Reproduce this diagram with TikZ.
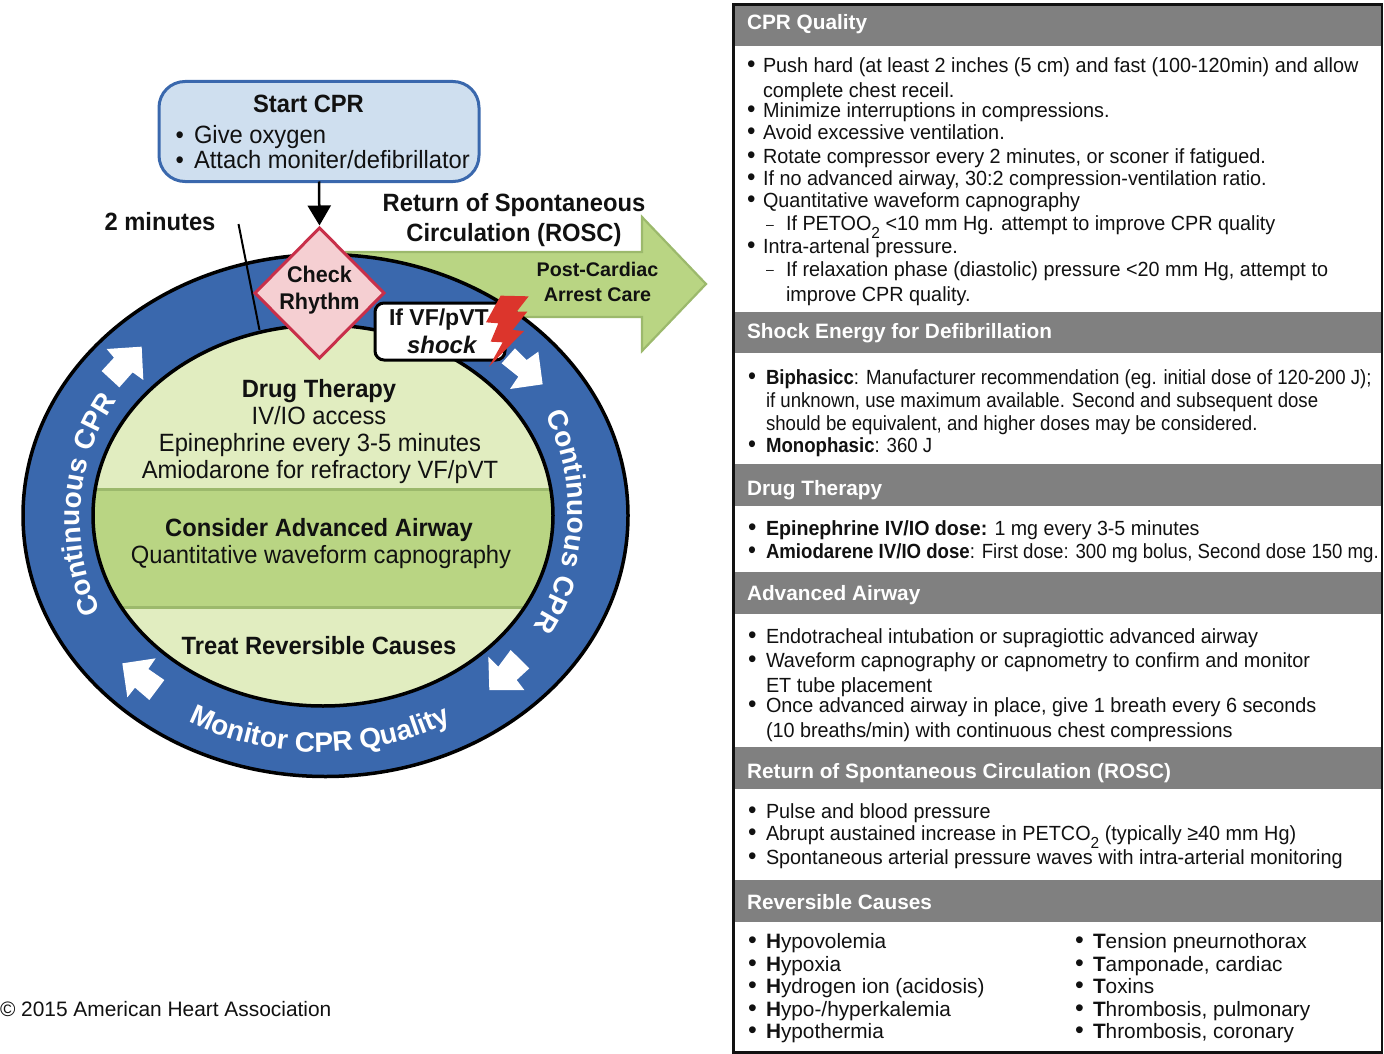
\documentclass[tikz,border=0pt]{standalone}
\usepackage{fontspec}
\setmainfont{Liberation Sans}
\newfontfamily\tfa{Liberation Sans}[FakeStretch=0.966]
\newfontfamily\tfb{Liberation Sans}[FakeStretch=0.908]
\newfontfamily\tfc{Liberation Sans}[FakeStretch=0.957]
\newfontfamily\tfe{Liberation Sans}[FakeStretch=0.95]
\usetikzlibrary{shapes.geometric,arrows.meta,decorations.text}
\definecolor{ink}{HTML}{111111}
\definecolor{ringblue}{HTML}{3A68AD}
\definecolor{boxblue}{HTML}{CFDFEF}
\definecolor{leaf}{HTML}{B9D583}
\definecolor{leafdark}{HTML}{9CB96C}
\definecolor{pale}{HTML}{E1EDC0}
\definecolor{crim}{HTML}{C8304A}
\definecolor{pink}{HTML}{F5CFD2}
\definecolor{bolt}{HTML}{DC352C}
\definecolor{hdr}{HTML}{808080}
\newcommand\fsz[1]{\fontsize{#1}{#1}\selectfont}
\newcommand\bigdot{\fsz{25}•}
\newcount\nc
\newcommand\tx[4][]{\global\advance\nc by 1 \node[lineb,#1] (n\the\nc) at (#2,#3) {#4};}
\newcommand\bx[4]{\global\advance\nc by 1 \node[lineb,tbl] (n\the\nc) at (#1,#3) {\bigdot};\global\advance\nc by 1 \node[lineb,tbl] (n\the\nc) at (#2,#3) {#4};}
\newcommand\hd[4]{\global\advance\nc by 1 \fill[hdr] (733,#1) rectangle (1382,#2);\node[lineb,hdtext] (n\the\nc) at (747,#3) {#4};}
\newcommand\sub[1]{\raisebox{-8pt}{\fsz{16}#1}}
\tikzset{
  lineb/.style={anchor=base west,inner sep=0pt,outer sep=0pt,text=ink},
  mid/.style={anchor=base},
  tbl/.style={font=\tfa\fsz{20.5}},
  hdtext/.style={font=\fsz{20.8}\bfseries,text=white},
  dia/.style={font=\tfe\fsz{25}},
  diab/.style={font=\tfe\fsz{25}\bfseries},
  whitearrow/.style={fill=white,draw=none},
  ringtext/.style={decorate,decoration={text along path,text align=center,text color=white,text={|\fsz{28}\bfseries|#1}}},
}
\begin{document}
\begin{tikzpicture}[x=1pt,y=-1pt]
\useasboundingbox (0,0) rectangle (1384,1054);
% post-cardiac arrow
\draw[fill=leaf,draw=leafdark,line width=2.2pt,line join=miter]
  (345,252) -- (642,252) -- (642,217) -- (706,284) -- (642,351) -- (642,317) -- (470,317) -- (345,252);
% ring
\fill[ringblue] (325.5,515.5) ellipse [x radius=302.5,y radius=261];
\draw[black,line width=3.5pt] (325.5,515.5) ellipse [x radius=302.5,y radius=261];
\fill[pale] (323,515.5) ellipse [x radius=230,y radius=190.5];
\begin{scope}
\clip (323,515.5) ellipse [x radius=230,y radius=190.5];
\fill[leaf] (80,489) rectangle (570,607);
\draw[leafdark,line width=3pt] (80,489) -- (570,489) (80,607) -- (570,607);
\end{scope}
\draw[black,line width=3.5pt] (323,515.5) ellipse [x radius=230,y radius=190.5];
% pointer
\coordinate (pa) at (238.5,224);
\coordinate (pb) at (259.5,330);
\draw[black,line width=2pt] (pa) -- (pb);
% white arrows
\begin{scope}[shift={(470,285)},x=.3333pt,y=-.3333pt]
\fill[whitearrow] (135,190)--(170,225)--(205,200)--(218,298)--(120,312)--(145,275)--(95,235)--cycle;
\end{scope}
\begin{scope}[shift={(90,335)},x=.3333pt,y=-.3333pt]
\fill[whitearrow] (35,108)--(72,68)--(50,42)--(155,35)--(160,135)--(128,112)--(88,157)--cycle;
\end{scope}
\begin{scope}[shift={(470,635)},x=.3333pt,y=-.3333pt]
\fill[whitearrow] (122,45)--(85,95)--(55,65)--(58,165)--(163,165)--(140,135)--(178,100)--cycle;
\end{scope}
\begin{scope}[shift={(110,645)},x=.3333pt,y=-.3333pt]
\fill[whitearrow] (163,105)--(115,72)--(137,40)--(37,55)--(52,157)--(75,128)--(118,165)--cycle;
\end{scope}
% ring text
\path[ringtext={Continuous CPR}] plot[domain=150:218,samples=25,smooth] ({324+244*cos(\x)},{520+228*sin(\x)});
\path[ringtext={Continuous CPR}] plot[domain=-42:48,samples=25,smooth] ({324+244*cos(\x)},{510+228*sin(\x)});
\path[ringtext={Monitor CPR Quality}] plot[domain=130:50,samples=25,smooth] ({320+265*cos(\x)},{520+232*sin(\x)});
% start box and diamond
\node[draw=ringblue,fill=boxblue,line width=3pt,rounded corners=26pt,minimum width=320pt,minimum height=100pt,inner sep=0pt,outer sep=0pt] (start) at (319,131.5) {};
\node[diamond,draw=crim,fill=pink,line width=3pt,minimum width=129pt,minimum height=130pt,aspect=1,inner sep=0pt,outer sep=0pt,line join=miter] (check) at (319.5,293) {};
\draw[line width=2.5pt,black,shorten >=2.5pt,-{Triangle[length=20pt,width=23pt]}] (start.south) -- (check.north);
% shock box
\node[draw=black,fill=white,line width=3pt,rounded corners=9pt,minimum width=130pt,minimum height=57pt,inner sep=0pt,outer sep=0pt] (shockbox) at (440,331.5) {};
% bolt
\begin{scope}[shift={(470,285)},x=.3333pt,y=-.3333pt]
\fill[bolt] (92,32)--(176,34)--(140,80)--(172,80)--(128,135)--(162,138)--(57,245)--(98,172)--(62,170)--(85,115)--(48,112)--cycle;
\end{scope}
% left texts
\tx[mid,diab]{308.5}{113}{Start CPR}
\tx[dia]{175.5}{144}{\bigdot}
\tx[dia]{194}{144}{Give oxygen}
\tx[dia]{175.5}{168}{\bigdot}
\tx[dia]{194}{168}{Attach moniter/defibrillator}
\tx[mid,diab]{160}{230}{2 minutes}
\tx[mid,diab]{514}{211}{Return of Spontaneous}
\tx[mid,diab]{514}{241}{Circulation (ROSC)}
\tx[mid,font=\fsz{19.7}\bfseries]{597.5}{276}{Post-Cardiac}
\tx[mid,font=\fsz{19.7}\bfseries]{597.5}{301}{Arrest Care}
\tx[mid,font=\tfe\fsz{22.7}\bfseries]{319.5}{282}{Check}
\tx[mid,font=\tfe\fsz{22.7}\bfseries]{319.5}{309}{Rhythm}
\tx[font=\fsz{23}\bfseries]{389}{325}{If VF/pVT}
\tx[font=\fsz{24}\bfseries\itshape]{407}{353}{shock}
\tx[mid,diab]{319}{397}{Drug Therapy}
\tx[mid,dia]{319}{424}{IV/IO access}
\tx[mid,dia]{320}{451}{Epinephrine every 3-5 minutes}
\tx[mid,dia]{320}{478}{Amiodarone for refractory VF/pVT}
\tx[mid,diab]{319}{536}{Consider Advanced Airway}
\tx[mid,dia]{321}{563}{Quantitative waveform capnography}
\tx[mid,diab]{319}{654}{Treat Reversible Causes}
\tx[font=\fsz{20.9}]{0}{1016}{© 2015 American Heart Association}
% table
\hd{5}{46}{30}{CPR Quality}
\hd{312}{353}{338}{Shock Energy for Defibrillation}
\hd{464}{506}{495}{Drug Therapy}
\hd{572}{614}{600}{Advanced Airway}
\hd{747}{789}{778}{Return of Spontaneous Circulation (ROSC)}
\hd{880}{922}{909}{Reversible Causes}
\draw[ink,line width=2.5pt] (733.5,4.5) rectangle (1382,1052.5);
\bx{747}{763}{73}{Push hard (at least 2 inches (5 cm) and fast (100-120min) and allow}
\tx[tbl]{763}{98}{complete chest receil.}
\bx{747}{763}{118}{Minimize interruptions in compressions.}
\bx{747}{763}{140}{Avoid excessive ventilation.}
\bx{747}{763}{164}{Rotate compressor every 2 minutes, or sconer if fatigued.}
\bx{747}{763}{185}{If no advanced airway, 30:2 compression-ventilation ratio.}
\bx{747}{763}{207}{Quantitative waveform capnography}
\tx[tbl,font=\fsz{14}]{766}{229}{–}
\tx[tbl]{786}{230}{If PETOO\sub{2} <10 mm Hg. attempt to improve CPR quality}
\bx{747}{763}{253}{Intra-artenal pressure.}
\tx[tbl,font=\fsz{14}]{766}{274}{–}
\tx[tbl]{786}{276}{If relaxation phase (diastolic) pressure <20 mm Hg, attempt to}
\tx[tbl]{786}{301}{improve CPR quality.}
\tikzset{tbl/.style={font=\tfb\fsz{20.5}}}
\bx{748}{766}{384}{\textbf{Biphasicc}: Manufacturer recommendation (eg. initial dose of 120-200 J);}
\tx[tbl]{766}{407}{if unknown, use maximum available. Second and subsequent dose}
\tx[tbl]{766}{430}{should be equivalent, and higher doses may be considered.}
\bx{748}{766}{452}{\textbf{Monophasic}: 360 J}
\tikzset{tbl/.style={font=\tfc\fsz{20.5}}}
\bx{748}{766}{535}{\textbf{Epinephrine IV/IO dose:} 1 mg every 3-5 minutes}
\tikzset{tbl/.style={font=\tfb\fsz{20.5}}}
\bx{748}{766}{558}{\textbf{Amiodarene IV/IO dose}: First dose: 300 mg bolus, Second dose 150 mg.}
\tikzset{tbl/.style={font=\tfa\fsz{20.5}}}
\bx{748}{766}{643}{Endotracheal intubation or supragiottic advanced airway}
\bx{748}{766}{667}{Waveform capnography or capnometry to confirm and monitor}
\tx[tbl]{766}{692}{ET tube placement}
\bx{748}{766}{712}{Once advanced airway in place, give 1 breath every 6 seconds}
\tx[tbl]{766}{737}{(10 breaths/min) with continuous chest compressions}
\bx{748}{766}{818}{Pulse and blood pressure}
\bx{748}{766}{840}{Abrupt austained increase in PETCO\sub{2} (typically ≥40 mm Hg)}
\bx{748}{766}{864}{Spontaneous arterial pressure waves with intra-arterial monitoring}
\tikzset{tbl/.style={font=\fsz{20.8}}}
\bx{748}{766}{948}{\textbf{H}ypovolemia}
\bx{748}{766}{971}{\textbf{H}ypoxia}
\bx{748}{766}{993}{\textbf{H}ydrogen ion (acidosis)}
\bx{748}{766}{1016}{\textbf{H}ypo-/hyperkalemia}
\bx{748}{766}{1038}{\textbf{H}ypothermia}
\bx{1075}{1093}{948}{\textbf{T}ension pneurnothorax}
\bx{1075}{1093}{971}{\textbf{T}amponade, cardiac}
\bx{1075}{1093}{993}{\textbf{T}oxins}
\bx{1075}{1093}{1016}{\textbf{T}hrombosis, pulmonary}
\bx{1075}{1093}{1038}{\textbf{T}hrombosis, coronary}
\end{tikzpicture}
\end{document}
